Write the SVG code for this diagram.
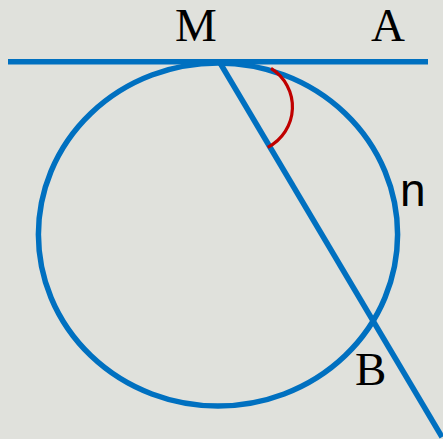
<svg xmlns="http://www.w3.org/2000/svg" width="443" height="439" viewBox="0 0 443 439">
<style>
.blue{fill:none;stroke:#0070c0;stroke-width:5.5}
.red{fill:none;stroke:#c00000;stroke-width:3.2}
.serif{font-family:"Liberation Serif","Times New Roman",serif;font-size:47px;fill:#000}
.sans{font-family:"Liberation Sans",Arial,sans-serif;font-size:46px;fill:#000}
</style>
<rect width="443" height="439" fill="#e0e1dc"/>
<g id="circle">
<ellipse class="blue" cx="218" cy="234.5" rx="179.6" ry="171.5"/>
</g>
<g id="connectors">
<line id="tangent" class="blue" x1="8" y1="61.8" x2="428" y2="61.8"/>
<line id="chord" class="blue" x1="219.5" y1="62" x2="442" y2="437"/>
<path id="angle" class="red" d="M271 68.3 A45.4 45.4 0 0 1 267.7 147.3"/>
</g>
<g id="label-M"><text class="serif" x="175" y="40.5">M</text></g>
<g id="label-A"><text class="serif" x="371" y="40.5">A</text></g>
<g id="label-n"><text class="sans" x="400" y="205.5">n</text></g>
<g id="label-B"><text class="serif" x="355" y="385">B</text></g>
</svg>
